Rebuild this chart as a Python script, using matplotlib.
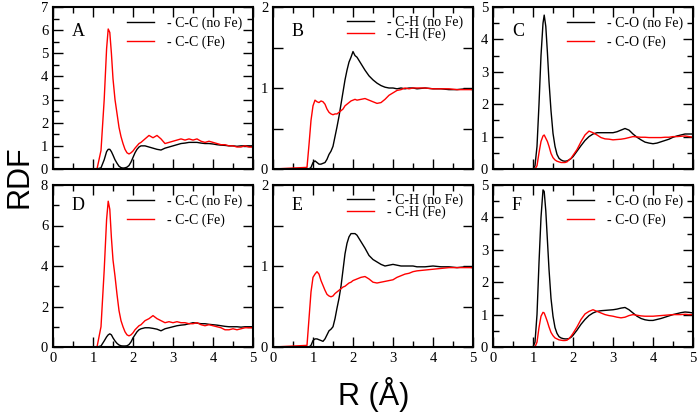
import numpy as np
import matplotlib
matplotlib.use("Agg")
import matplotlib.pyplot as plt
from matplotlib.ticker import MultipleLocator, FuncFormatter

# ---- data ----
r_cc = [0, 1.10, 1.20, 1.28, 1.34, 1.38, 1.42, 1.46, 1.50, 1.55, 1.60, 1.65, 1.70, 1.75,
        1.80, 1.85, 1.90, 1.95, 2.00, 2.05, 2.10, 2.15, 2.20, 2.30, 2.40, 2.50, 2.60,
        2.70, 2.80, 2.90, 3.00, 3.10, 3.20, 3.30, 3.40, 3.50, 3.60, 3.70, 3.80, 3.90,
        4.00, 4.10, 4.20, 4.30, 4.40, 4.50, 4.60, 4.70, 4.80, 4.90, 5.00]
a_nofe = [0, 0, 0.05, 0.40, 0.75, 0.85, 0.85, 0.75, 0.60, 0.40, 0.25, 0.12, 0.06, 0.04,
          0.05, 0.08, 0.15, 0.30, 0.50, 0.70, 0.85, 0.95, 1.00, 1.00, 0.95, 0.90, 0.85,
          0.82, 0.90, 0.95, 1.00, 1.05, 1.10, 1.12, 1.15, 1.15, 1.15, 1.12, 1.10, 1.10,
          1.08, 1.05, 1.03, 1.02, 1.00, 1.00, 0.98, 1.00, 1.00, 1.00, 1.00]
a_fe = [0, 0, 0.80, 3.00, 5.20, 6.05, 5.90, 5.00, 3.90, 3.00, 2.40, 1.80, 1.40, 1.10,
        0.85, 0.70, 0.65, 0.70, 0.78, 0.90, 1.00, 1.10, 1.15, 1.30, 1.45, 1.35, 1.45,
        1.30, 1.10, 1.15, 1.20, 1.25, 1.30, 1.25, 1.30, 1.25, 1.30, 1.20, 1.15, 1.20,
        1.15, 1.10, 1.05, 1.05, 1.00, 1.00, 0.95, 0.95, 1.00, 0.95, 0.95]
d_nofe = [0, 0, 0.05, 0.30, 0.50, 0.60, 0.65, 0.60, 0.45, 0.30, 0.18, 0.10, 0.06, 0.05,
          0.05, 0.06, 0.12, 0.25, 0.45, 0.60, 0.75, 0.85, 0.90, 0.95, 0.95, 0.92, 0.88,
          0.80, 0.90, 0.95, 1.00, 1.05, 1.08, 1.10, 1.15, 1.20, 1.18, 1.15, 1.15, 1.12,
          1.10, 1.08, 1.05, 1.02, 1.00, 1.00, 1.00, 0.98, 1.00, 1.00, 1.00]
d_fe = [0, 0, 1.00, 3.80, 6.30, 7.20, 6.80, 5.40, 4.30, 3.50, 2.60, 1.80, 1.30, 1.00,
        0.75, 0.60, 0.55, 0.60, 0.70, 0.85, 0.95, 1.05, 1.10, 1.30, 1.40, 1.55, 1.40,
        1.30, 1.20, 1.25, 1.20, 1.25, 1.20, 1.20, 1.15, 1.15, 1.20, 1.10, 1.05, 1.10,
        1.05, 1.00, 0.95, 0.85, 0.85, 0.90, 0.85, 0.90, 0.95, 0.95, 0.95]

r_ch = [0, 0.85, 0.90, 0.95, 1.00, 1.05, 1.10, 1.15, 1.20, 1.25, 1.30, 1.35, 1.40, 1.45,
        1.50, 1.55, 1.60, 1.65, 1.70, 1.75, 1.80, 1.85, 1.90, 1.95, 2.00, 2.05, 2.10,
        2.20, 2.30, 2.40, 2.50, 2.60, 2.70, 2.80, 2.90, 3.00, 3.10, 3.20, 3.30, 3.40,
        3.50, 3.60, 3.80, 4.00, 4.20, 4.40, 4.60, 4.80, 5.00]
b_nofe = [0, 0, 0, 0.02, 0.08, 0.10, 0.08, 0.06, 0.06, 0.07, 0.08, 0.12, 0.18, 0.22,
          0.28, 0.40, 0.52, 0.65, 0.80, 0.95, 1.10, 1.22, 1.32, 1.38, 1.45, 1.40, 1.38,
          1.30, 1.22, 1.15, 1.10, 1.06, 1.03, 1.01, 1.00, 1.00, 0.99, 1.00, 0.99, 1.00,
          1.00, 0.99, 1.00, 0.99, 0.99, 0.98, 0.98, 0.99, 0.98]
b_fe = [0, 0.02, 0.30, 0.60, 0.78, 0.85, 0.83, 0.82, 0.84, 0.83, 0.80, 0.74, 0.70, 0.68,
        0.67, 0.68, 0.68, 0.70, 0.72, 0.74, 0.78, 0.80, 0.82, 0.84, 0.85, 0.86, 0.85,
        0.86, 0.87, 0.85, 0.83, 0.81, 0.82, 0.86, 0.91, 0.94, 0.97, 0.98, 1.00, 0.99,
        1.00, 1.00, 1.00, 0.99, 0.99, 0.99, 0.98, 0.98, 0.98]
e_nofe = [0, 0, 0, 0.02, 0.08, 0.10, 0.10, 0.09, 0.08, 0.07, 0.10, 0.15, 0.20, 0.22,
          0.25, 0.35, 0.48, 0.60, 0.75, 0.95, 1.15, 1.28, 1.36, 1.40, 1.40, 1.40, 1.38,
          1.30, 1.22, 1.13, 1.08, 1.05, 1.02, 1.00, 1.01, 1.02, 1.01, 1.00, 1.00, 1.00,
          1.00, 0.99, 0.99, 1.00, 0.99, 0.99, 0.98, 0.99, 0.98]
e_fe = [0, 0.02, 0.35, 0.68, 0.86, 0.90, 0.93, 0.90, 0.82, 0.76, 0.70, 0.65, 0.63, 0.62,
        0.63, 0.66, 0.68, 0.70, 0.72, 0.74, 0.75, 0.77, 0.79, 0.80, 0.82, 0.83, 0.84,
        0.86, 0.87, 0.84, 0.80, 0.79, 0.80, 0.81, 0.82, 0.83, 0.86, 0.88, 0.90, 0.91,
        0.93, 0.94, 0.95, 0.96, 0.97, 0.98, 0.98, 0.98, 0.98]

r_co = [0, 1.00, 1.05, 1.10, 1.15, 1.20, 1.25, 1.28, 1.32, 1.36, 1.40, 1.45, 1.50, 1.55,
        1.60, 1.65, 1.70, 1.75, 1.80, 1.85, 1.90, 1.95, 2.00, 2.10, 2.20, 2.30, 2.40,
        2.50, 2.60, 2.70, 2.80, 2.90, 3.00, 3.10, 3.20, 3.30, 3.40, 3.50, 3.60, 3.70,
        3.80, 3.90, 4.00, 4.10, 4.20, 4.30, 4.40, 4.50, 4.60, 4.70, 4.80, 4.90, 5.00]
c_nofe = [0, 0, 0.10, 0.70, 2.00, 3.50, 4.50, 4.75, 4.40, 3.60, 2.70, 1.80, 1.10, 0.70,
          0.45, 0.33, 0.28, 0.25, 0.24, 0.25, 0.28, 0.32, 0.38, 0.55, 0.72, 0.88, 1.00,
          1.08, 1.12, 1.12, 1.12, 1.12, 1.12, 1.15, 1.20, 1.25, 1.20, 1.08, 0.98, 0.90,
          0.83, 0.80, 0.78, 0.80, 0.84, 0.88, 0.92, 0.98, 1.02, 1.05, 1.08, 1.08, 1.08]
c_fe = [0, 0, 0, 0.10, 0.50, 0.85, 1.02, 1.05, 0.95, 0.85, 0.70, 0.48, 0.35, 0.28,
        0.24, 0.22, 0.20, 0.20, 0.20, 0.22, 0.28, 0.33, 0.42, 0.60, 0.84, 1.05, 1.17,
        1.12, 1.05, 0.97, 0.93, 0.92, 0.90, 0.91, 0.92, 0.94, 0.97, 1.00, 0.99, 0.98,
        0.98, 0.97, 0.97, 0.97, 0.97, 0.98, 0.98, 1.00, 1.00, 1.01, 1.02, 1.00, 0.98]
f_nofe = [0, 0, 0.15, 1.00, 2.60, 4.00, 4.85, 4.80, 4.20, 3.30, 2.40, 1.50, 0.95, 0.60,
          0.42, 0.32, 0.28, 0.26, 0.25, 0.25, 0.26, 0.30, 0.36, 0.52, 0.70, 0.85, 0.97,
          1.05, 1.10, 1.12, 1.13, 1.14, 1.15, 1.17, 1.20, 1.22, 1.15, 1.05, 0.95, 0.88,
          0.84, 0.82, 0.82, 0.85, 0.88, 0.92, 0.96, 1.00, 1.03, 1.06, 1.08, 1.07, 1.05]
f_fe = [0, 0, 0, 0.15, 0.60, 0.95, 1.07, 1.05, 0.92, 0.78, 0.62, 0.45, 0.35, 0.28,
        0.25, 0.22, 0.21, 0.20, 0.20, 0.21, 0.26, 0.33, 0.42, 0.62, 0.85, 1.02, 1.10,
        1.15, 1.10, 1.05, 1.00, 0.97, 0.95, 0.92, 0.90, 0.92, 0.97, 1.00, 0.98, 0.96,
        0.95, 0.95, 0.95, 0.96, 0.97, 0.98, 0.99, 1.00, 1.00, 1.00, 1.01, 1.00, 1.00]

panels = [
    ("A", r_cc, a_nofe, a_fe, "C-C", 7, 1, 0.5),
    ("B", r_ch, b_nofe, b_fe, "C-H", 2, 0.5, None),
    ("C", r_co, c_nofe, c_fe, "C-O", 5, 1, 0.5),
    ("D", r_cc, d_nofe, d_fe, "C-C", 8, 2, 1),
    ("E", r_ch, e_nofe, e_fe, "C-H", 2, 0.5, None),
    ("F", r_co, f_nofe, f_fe, "C-O", 5, 1, 0.5),
]

serif = "Liberation Serif"
fig = plt.figure(figsize=(7.0, 4.16), dpi=100)

W, H = 700.0, 416.0
lefts = [53, 273, 493]
tops = [7, 185]
pw, ph = 200, 162

def intlabel(v, pos):
    if abs(v - round(v)) < 1e-6:
        return "%d" % round(v)
    return ""

for i, (letter, r, nofe, fe, pair, ymax, ymaj, ymin) in enumerate(panels):
    row, col = divmod(i, 3)
    ax = fig.add_axes([lefts[col] / W, 1 - (tops[row] + ph) / H, pw / W, ph / H])
    ax.plot(r, nofe, color="black", lw=1.0, label="- %s (no Fe)" % pair)
    ax.plot(r, fe, color="#ff0000", lw=1.0, label="- %s (Fe)" % pair)
    ax.set_xlim(0, 5)
    ax.set_ylim(0, ymax)
    ax.xaxis.set_major_locator(MultipleLocator(1))
    ax.xaxis.set_minor_locator(MultipleLocator(0.5))
    ax.yaxis.set_major_locator(MultipleLocator(ymaj))
    if ymin:
        ax.yaxis.set_minor_locator(MultipleLocator(ymin))
    ax.yaxis.set_major_formatter(FuncFormatter(intlabel))
    ax.tick_params(which="both", direction="in", top=True, right=True, width=1.0,
                   labelsize=10.5, pad=3.5)
    ax.tick_params(which="major", length=7)
    ax.tick_params(which="minor", length=4)
    if row == 0:
        ax.tick_params(labelbottom=False)
    for lab in ax.get_xticklabels() + ax.get_yticklabels():
        lab.set_family(serif)
    for s in ax.spines.values():
        s.set_linewidth(1.5)

    ax.text(0.095, 0.82 if row == 0 else 0.845, letter, transform=ax.transAxes,
            family=serif, fontsize=13, va="baseline")
    spacing = -0.1 if pair == "C-H" else 0.4
    ax.legend(loc="upper left", bbox_to_anchor=(0.37, 0.94 if pair != "C-H" else 0.95),
              frameon=False, handlelength=1.95, handletextpad=0.9, borderpad=0,
              borderaxespad=0, labelspacing=spacing,
              prop={"family": serif, "size": 10})

fig.text(20 / W, 0.575, "RDF", rotation=90, ha="center", va="center",
         family="Liberation Sans", fontsize=22)
fig.text(374 / W, 1 - 405 / H, "R (\u00c5)", ha="center", va="baseline",
         family="Liberation Sans", fontsize=22)

fig.savefig("out.png", dpi=100)
